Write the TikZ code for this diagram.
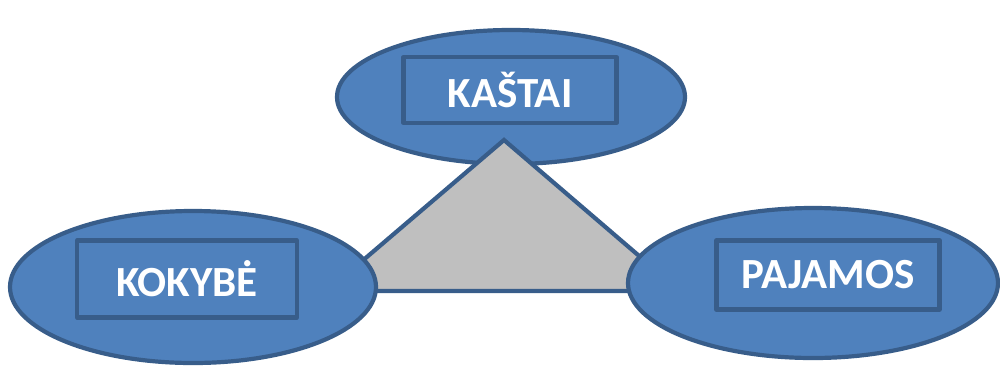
\documentclass[tikz,border=0pt]{standalone}
\usepackage{fontspec}
\setmainfont{Carlito}
\usetikzlibrary{shapes.geometric}
\definecolor{blueFill}{HTML}{4F81BD}
\definecolor{blueLine}{HTML}{385D8A}
\definecolor{greyFill}{HTML}{BFBFBF}
\tikzset{
  oval/.style={ellipse, draw=blueLine, fill=blueFill, line width=4.2pt, inner sep=0pt},
  label box/.style={draw=blueLine, line width=4.2pt, line join=round, inner sep=0pt,
    text=white, font=\fontsize{43}{50}\selectfont\bfseries}
}
\begin{document}
\begin{tikzpicture}[x=1pt,y=-1pt]
      \useasboundingbox (0,0) rectangle (1000,365);
      \draw (511,97) node[oval, minimum width=348pt, minimum height=134pt] (kastai){};
      \coordinate (apex) at (504,140);
      \coordinate (baseL) at (327,291);
      \coordinate (baseR) at (680,291);
      \draw[draw=blueLine, fill=greyFill, line width=4.2pt, line join=miter]
        (apex) -- (baseL) -- (baseR) -- cycle;
      \draw
        (193,287) node[oval, minimum width=366pt, minimum height=152pt] (kokybe){}
        (813,283) node[oval, minimum width=370pt, minimum height=150pt] (pajamos){};
      \begin{scope}[every node/.style={label box}]
        \node[minimum width=213pt, minimum height=66pt] (kastaiBox) at (510,90) {KAŠTAI};
        \node[minimum width=220pt, minimum height=77pt] (kokybeBox) at (187,279) {KOKYBĖ};
        \node[minimum width=223pt, minimum height=69pt] (pajamosBox) at (828,275) {PAJAMOS};
      \end{scope}
    \end{tikzpicture}
\end{document}
